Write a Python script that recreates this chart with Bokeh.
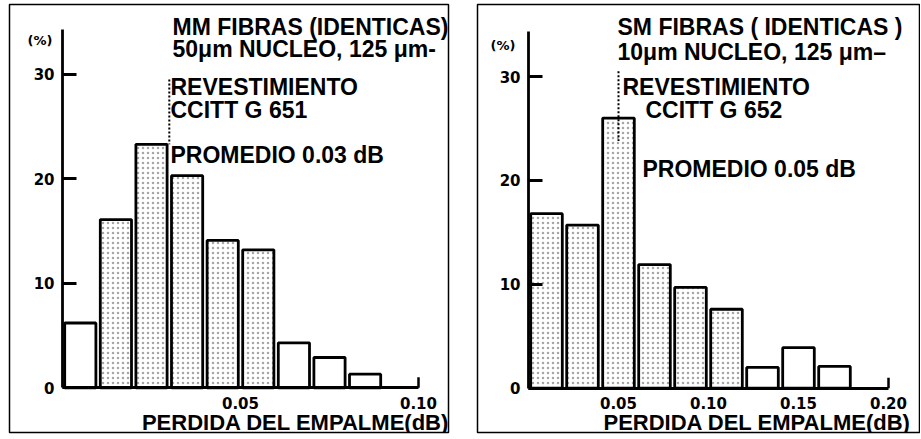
from bokeh.plotting import figure
from bokeh.models import Range1d, FixedTicker, Label, ColumnDataSource, NumeralTickFormatter
from bokeh.layouts import row
from bokeh.embed import file_html
from bokeh.resources import INLINE

# ---------------- data ----------------
y_ticks = [0, 10, 20, 30]

mm_bin_start = [0.00, 0.01, 0.02, 0.03, 0.04, 0.05, 0.06, 0.07, 0.08]
mm_bin_width = 0.01
mm_percent = [6.2, 16.1, 23.3, 20.3, 14.1, 13.2, 4.3, 2.9, 1.3]
mm_stippled = [False, True, True, True, True, True, False, False, False]
mm_mean = 0.03
mm_x_ticks = [0.05, 0.10]
mm_x_max = 0.10
mm_lines = ["MM FIBRAS (IDENTICAS)", "50\u03bcm NUCLEO, 125 \u03bcm-",
            "REVESTIMIENTO", "CCITT G 651", "PROMEDIO 0.03 dB"]

sm_bin_start = [0.00, 0.02, 0.04, 0.06, 0.08, 0.10, 0.12, 0.14, 0.16]
sm_bin_width = 0.02
sm_percent = [16.8, 15.7, 26.0, 11.9, 9.7, 7.6, 2.0, 3.9, 2.1]
sm_stippled = [True, True, True, True, True, True, False, False, False]
sm_mean = 0.05
sm_x_ticks = [0.05, 0.10, 0.15, 0.20]
sm_x_max = 0.20
sm_lines = ["SM FIBRAS ( IDENTICAS )", "10\u03bcm NUCLEO, 125 \u03bcm\u2013",
            "REVESTIMIENTO", "CCITT G 652", "PROMEDIO 0.05 dB"]

x_title = "PERDIDA DEL EMPALME(dB)"
y_unit = "(%)"

FONT = "Liberation Sans"
TICK_FONT = "DejaVu Sans"
H = 437
FRAME_TOP = 4
FRAME_BOTTOM = 432
BASELINE_FIX = 0.36  # em: lift of the rendered alphabetic baseline


def panel(canvas_left, width, frame_left, frame_right, x0_px, x_scale, y0_px, y_scale,
          bin_start, bin_width, percent, stippled, mean, mean_top, mean_bottom,
          x_ticks, x_max, lines, text_pos, unit_pos, title_pos, title_align):
    p = figure(width=width, height=H, output_backend="svg", toolbar_location=None,
               title=None,
               min_border_left=frame_left - canvas_left,
               min_border_right=canvas_left + width - frame_right,
               min_border_top=FRAME_TOP, min_border_bottom=H - FRAME_BOTTOM,
               x_range=Range1d((frame_left - x0_px) / x_scale, (frame_right - x0_px) / x_scale),
               y_range=Range1d((y0_px - FRAME_BOTTOM) / y_scale, (y0_px - FRAME_TOP) / y_scale))
    p.grid.visible = False
    p.outline_line_color = "black"
    p.outline_line_width = 1.5
    p.background_fill_color = "white"
    p.border_fill_color = "white"

    def dx(px):
        return (px - x0_px) / x_scale

    def dy(py):
        return (y0_px - py) / y_scale

    # bars
    gap = 2.2 / x_scale
    left = [b + gap for b in bin_start]
    right = [b + bin_width - gap for b in bin_start]
    src = ColumnDataSource(dict(left=left, right=right, top=percent,
                                hatch=["dot" if s else "blank" for s in stippled]))
    p.quad(left="left", right="right", top="top", bottom=0, source=src,
           fill_color="white", line_color="black", line_width=2.8,
           hatch_pattern="hatch", hatch_color="black", hatch_alpha=0.35,
           hatch_scale=5, hatch_weight=1)

    # mean line
    p.segment(x0=[mean], y0=[mean_top], x1=[mean], y1=[mean_bottom],
              line_color="black", line_width=2, line_dash="2 2")
    # end mark of the x baseline
    p.segment(x0=[x_max], y0=[0], x1=[x_max], y1=[1.0], line_color="black", line_width=2.5)

    # axes
    xa = p.xaxis[0]
    xa.fixed_location = 0
    xa.bounds = (0, x_max)
    xa.ticker = FixedTicker(ticks=x_ticks)
    xa.formatter = NumeralTickFormatter(format="0.00")
    xa.major_tick_in = 0
    xa.major_tick_out = 0
    xa.minor_tick_line_color = None
    xa.axis_line_width = 2.8
    xa.major_label_standoff = 9
    xa.major_label_text_font = TICK_FONT
    xa.major_label_text_font_style = "bold"
    xa.major_label_text_font_size = "15px"
    xa.major_label_text_color = "black"

    ya = p.yaxis[0]
    ya.fixed_location = 0
    ya.bounds = (0, 34.3)
    ya.ticker = FixedTicker(ticks=y_ticks)
    ya.major_tick_in = 14
    ya.major_tick_out = 0
    ya.major_tick_line_width = 2.8
    ya.minor_tick_line_color = None
    ya.axis_line_width = 2.8
    ya.major_label_standoff = 8
    ya.major_label_text_font = TICK_FONT
    ya.major_label_text_font_style = "bold"
    ya.major_label_text_font_size = "15px"
    ya.major_label_text_color = "black"

    def add(text, px, py, size, align="left", font=FONT, style="bold"):
        py_fixed = py - BASELINE_FIX * size
        p.add_layout(Label(x=dx(px), y=dy(py_fixed), text=text, text_font=font,
                           text_font_size=f"{size}px", text_font_style=style,
                           text_align=align, text_baseline="alphabetic",
                           text_color="black"))

    for t, (px, py) in zip(lines, text_pos):
        add(t, px, py, 23)
    add(y_unit, unit_pos[0], unit_pos[1], 13, font=TICK_FONT)
    add(x_title, title_pos[0], title_pos[1], 22, align=title_align)
    return p


p1 = panel(0, 450, 9, 448, 62, 3560.0, 387.3, 10.45,
           mm_bin_start, mm_bin_width, mm_percent, mm_stippled,
           mm_mean, 29.5, mm_percent[2],
           mm_x_ticks, mm_x_max, mm_lines,
           [(172, 35), (172, 57), (170, 95), (170, 118), (170, 163)],
           (27, 45), (449, 430), "right")

p2 = panel(475, 445, 477, 919, 528, 1800.0, 387.7, 10.39,
           sm_bin_start, sm_bin_width, sm_percent, sm_stippled,
           sm_mean, 30.5, 23.8,
           sm_x_ticks, sm_x_max, sm_lines,
           [(617, 35), (617, 60), (622, 95), (645, 118), (642, 177)],
           (490, 50), (603, 430), "left")

layout = row(p1, p2, spacing=25)
open("out.html", "w").write(file_html(layout, INLINE))
